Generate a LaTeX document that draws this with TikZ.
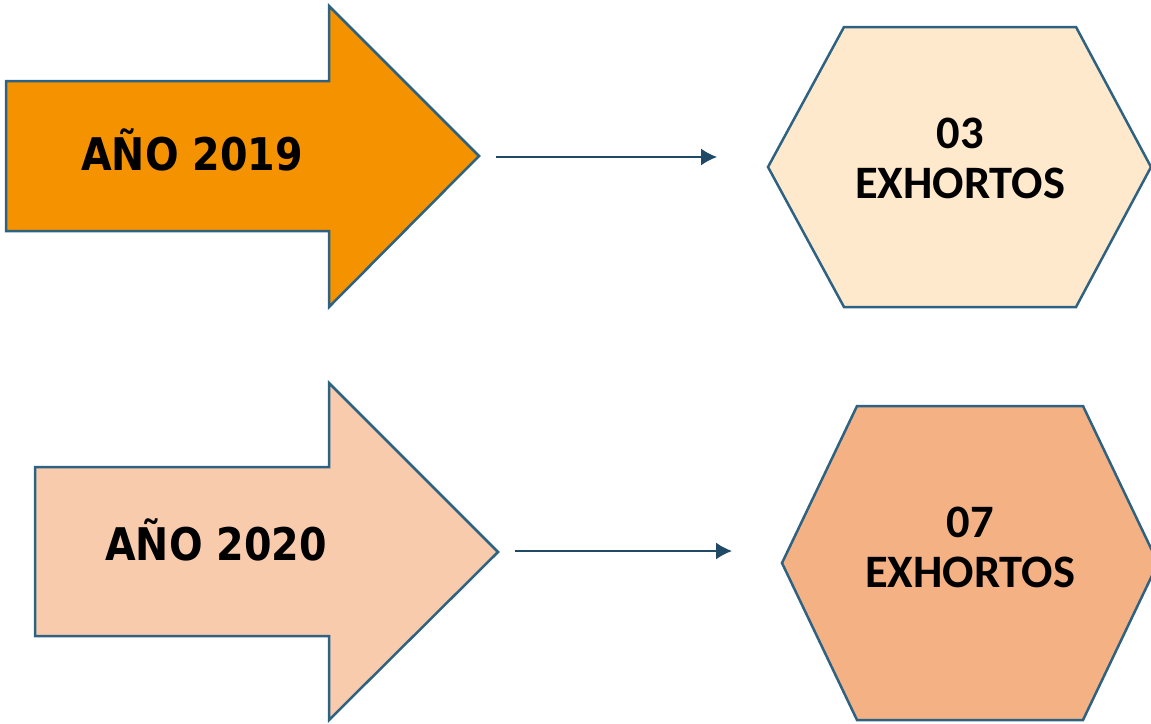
\documentclass[tikz,border=0pt]{standalone}
\usepackage{fontspec}
\setmainfont{Carlito}
\newfontfamily\yearfont[FakeStretch=0.88]{DejaVu Sans}
\usetikzlibrary{arrows.meta}
\definecolor{edgeblue}{RGB}{46,98,130}
\definecolor{linkblue}{RGB}{31,73,100}
\definecolor{deeporange}{RGB}{245,146,0}
\definecolor{paleorange}{RGB}{248,203,173}
\definecolor{cream}{RGB}{255,233,204}
\definecolor{salmon}{RGB}{244,177,132}
\tikzset{
  bigarrow/.style = {draw=edgeblue, line width=2.5pt, line join=miter},
  hexa/.style = {draw=edgeblue, line width=2.5pt},
  yeartext/.style = {font=\yearfont\bfseries\fontsize{45}{50}\selectfont, anchor=base},
  counttext/.style = {font=\bfseries\fontsize{46.5}{50}\selectfont, align=center},
  link/.style = {draw=linkblue, line width=1.6pt, -{Latex[length=16pt, width=17pt]}}
}

\begin{document}
\begin{tikzpicture}[x = 1pt, y = -1pt]
    \useasboundingbox (0,0) rectangle (1151,723);
    \draw[bigarrow, fill=deeporange] (6,81) -- ++(323,0) -- ++(0,-75) -- ++(150,150) coordinate(T1) -- ++(-150,151) -- ++(0,-76) -- ++(-323,0) -- cycle;
    \node[yeartext] (Y1) at (192,170) {AÑO 2019};
    \draw[hexa, fill=cream] (768,167) coordinate(H1) -- (844,27) -- ++(232,0) -- (1151,167) -- (1076,307) -- ++(-232,0) -- cycle;
    \node[counttext] (C1) at (960,158) {03\\EXHORTOS};
    \coordinate (S1) at (496,157);
    \coordinate (E1) at (717,157);
    \draw[link] (S1) -- (E1);
    \draw[bigarrow, fill=paleorange] (35,467) -- ++(294,0) -- ++(0,-84) -- ++(169,169) coordinate(T2) -- ++(-169,168) -- ++(0,-84) -- ++(-294,0) -- cycle;
    \node[yeartext] (Y2) at (216,560) {AÑO 2020};
    \draw[hexa, fill=salmon] (782,563) coordinate(H2) -- (857,406) -- ++(226,0) -- (1158,563) -- (1083,720) -- ++(-226,0) -- cycle;
    \node[counttext] (C2) at (970,547) {07\\EXHORTOS};
    \coordinate (S2) at (515,551);
    \coordinate (E2) at (732,551);
    \draw[link] (S2) -- (E2);
\end{tikzpicture}
\end{document}
